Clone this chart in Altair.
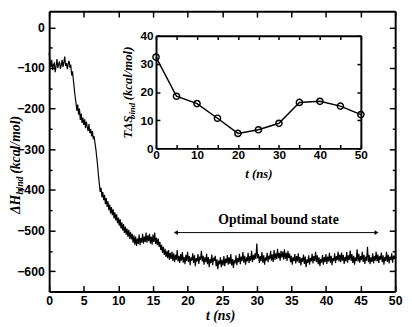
import altair as alt
import pandas as pd

# ---------------- data ----------------
# Main trace: Delta H_bind (kcal/mol), sampled every 0.125 ns from 0 to 50 ns
dh = [
    -62, -85, -98, -80, -105, -92, -88, -110, -95, -78, -100, -90, -84, -102, -93, -80,
    -97, -86, -72, -95, -88, -103, -90, -82, -99, -92, -118, -108, -130, -150, -170, -185,
    -205, -190, -215, -200, -228, -212, -235, -222, -240, -226, -248, -232, -245, -255, -238, -260,
    -250, -268, -255, -275, -268, -285, -300, -320, -340, -365, -385, -405, -395, -418, -405, -425,
    -412, -435, -420, -442, -428, -450, -436, -458, -442, -462, -448, -470, -455, -475, -460, -482,
    -468, -488, -472, -495, -480, -500, -484, -506, -490, -510, -495, -515, -498, -520, -503, -522,
    -508, -530, -512, -535, -515, -538, -520, -533, -510, -536, -518, -530, -508, -532, -515, -528,
    -505, -530, -512, -526, -508, -532, -515, -535, -510, -528, -505, -533, -518, -536, -520, -540,
    -528, -548, -535, -555, -540, -560, -545, -565, -550, -568, -548, -572, -555, -570, -552, -575,
    -556, -578, -560, -572, -548, -576, -562, -580, -558, -574, -553, -579, -565, -583, -560, -575,
    -552, -577, -563, -585, -566, -574, -556, -580, -561, -588, -568, -576, -558, -582, -564, -572,
    -550, -576, -562, -584, -566, -578, -557, -583, -565, -590, -570, -580, -559, -585, -567, -575,
    -562, -588, -571, -595, -574, -583, -566, -590, -572, -586, -563, -588, -569, -580, -560, -584,
    -566, -582, -558, -586, -570, -592, -572, -581, -561, -585, -568, -578, -557, -583, -564, -575,
    -553, -579, -562, -584, -566, -576, -555, -580, -563, -574, -550, -578, -560, -572, -556, -570,
    -532, -568, -558, -580, -563, -575, -553, -579, -561, -584, -566, -574, -555, -578, -562, -571,
    -550, -574, -559, -577, -548, -572, -556, -570, -545, -568, -555, -574, -550, -566, -552, -572,
    -546, -570, -555, -575, -550, -568, -557, -578, -562, -584, -566, -575, -558, -581, -563, -576,
    -556, -580, -565, -586, -568, -577, -559, -582, -564, -590, -571, -580, -561, -584, -567, -576,
    -557, -581, -563, -575, -552, -578, -561, -583, -566, -588, -570, -579, -560, -584, -565, -577,
    -558, -582, -564, -576, -555, -579, -562, -585, -568, -575, -556, -580, -563, -573, -552, -576,
    -559, -578, -554, -574, -560, -582, -565, -576, -553, -579, -561, -572, -549, -575, -558, -580,
    -562, -584, -566, -575, -546, -576, -557, -579, -563, -573, -552, -577, -560, -582, -564, -574,
    -540, -578, -560, -583, -566, -577, -556, -581, -563, -574, -552, -576, -559, -580, -563, -572,
    -554, -578, -561, -584, -565, -575, -552, -577, -560, -581, -564, -573, -556, -579, -562, -570,
    -560,
]
t_main = [i * 0.125 for i in range(len(dh))]

# Inset: T*Delta S_bind (kcal/mol)
t_inset = [0, 5, 10, 15, 20, 25, 30, 35, 40, 45, 50]
tds = [32.4, 18.5, 15.9, 10.7, 5.3, 6.6, 8.9, 16.3, 16.7, 15.0, 12.0]

# Annotation arrow (data coordinates)
arrow_t = [18.3, 47.3]
arrow_dh = -505
arrow_label = "Optimal bound state"

x_major = [0, 5, 10, 15, 20, 25, 30, 35, 40, 45, 50]
y_major = [-600, -500, -400, -300, -200, -100, 0]
y_minor = [-550, -450, -350, -250, -150, -50]
ix_labels = [0, 10, 20, 30, 40, 50]
ix_ticks = [0, 5, 10, 15, 20, 25, 30, 35, 40, 45, 50]
iy_labels = [0, 10, 20, 30, 40]

# ---------------- layout ----------------
W, H = 353, 286
SANS = "Liberation Sans"
SERIF = "Liberation Serif"

xs = alt.Scale(domain=[0, 50], nice=False, zero=False)
ys = alt.Scale(domain=[-650, 40], nice=False, zero=False)
ixs = alt.Scale(domain=[0, 50], range=[109, 318], nice=False, zero=False)
iys = alt.Scale(domain=[0, 40], range=[140, 25], nice=False, zero=False)


def ax(**kw):
    base = dict(title=None, grid=False, labels=False, ticks=False, domain=False,
                tickColor="black", domainColor="black", labelColor="black",
                labelFont=SANS, labelFontWeight="bold", labelFlush=False,
                labelOverlap=False, labelBound=False)
    base.update(kw)
    return alt.Axis(**base)


one = pd.DataFrame({"k": [0]})


def txt(s, x, y, size, angle=0, align="center", italic=True, weight="bold"):
    return alt.Chart(one).mark_text(
        text=s, font=SERIF, fontSize=size, fontStyle="italic" if italic else "normal",
        fontWeight=weight, angle=angle, align=align, baseline="alphabetic", color="black"
    ).encode(x=alt.value(x), y=alt.value(y))


main_df = pd.DataFrame({"t": t_main, "dh": dh})
base = alt.Chart(main_df)

line = base.mark_line(color="black", strokeWidth=1.2).encode(
    x=alt.X("t:Q", scale=xs, axis=ax(orient="bottom", labels=True, values=x_major,
                                     labelFontSize=12.5, labelPadding=3, tickSize=0,
                                     domain=True, domainWidth=2)),
    y=alt.Y("dh:Q", scale=ys, axis=ax(orient="left", labels=True, values=y_major,
                                      labelFontSize=12.5, labelPadding=5, tickSize=0,
                                      domain=True, domainWidth=2)),
)
g1 = base.mark_line(opacity=0).encode(
    x=alt.X("t:Q", scale=xs, axis=ax(orient="top", offset=-H, ticks=True, tickSize=6,
                                     tickWidth=1.5, values=x_major)),
    y=alt.Y("dh:Q", scale=ys, axis=ax(orient="right", offset=-W, ticks=True, tickSize=6,
                                      tickWidth=1.5, values=y_major)),
)
g2 = base.mark_line(opacity=0).encode(
    x=alt.X("t:Q", scale=xs, axis=ax(orient="bottom", offset=-H, ticks=True, tickSize=6,
                                     tickWidth=1.5, values=x_major,
                                     domain=True, domainWidth=2)),
    y=alt.Y("dh:Q", scale=ys, axis=ax(orient="left", offset=-W, ticks=True, tickSize=6,
                                      tickWidth=1.5, values=y_major,
                                      domain=True, domainWidth=2)),
)
g3 = base.mark_line(opacity=0).encode(
    x=alt.X("t:Q", scale=xs, axis=None),
    y=alt.Y("dh:Q", scale=ys, axis=ax(orient="right", offset=-W, ticks=True, tickSize=3,
                                      tickWidth=1.5, values=y_minor)),
)
g4 = base.mark_line(opacity=0).encode(
    x=alt.X("t:Q", scale=xs, axis=None),
    y=alt.Y("dh:Q", scale=ys, axis=ax(orient="left", offset=-W, ticks=True, tickSize=3,
                                      tickWidth=1.5, values=y_minor)),
)

arrow_df = pd.DataFrame({"t1": [arrow_t[0]], "t2": [arrow_t[1]], "y": [arrow_dh]})
rule = alt.Chart(arrow_df).mark_rule(color="black", strokeWidth=1).encode(
    x=alt.X("t1:Q", scale=xs, axis=None), x2="t2:Q",
    y=alt.Y("y:Q", scale=ys, axis=None),
)
heads_df = pd.DataFrame({"t": arrow_t, "y": [arrow_dh, arrow_dh],
                         "shape": ["triangle-left", "triangle-right"]})
heads = alt.Chart(heads_df).mark_point(filled=True, color="black", size=22, opacity=1).encode(
    x=alt.X("t:Q", scale=xs, axis=None),
    y=alt.Y("y:Q", scale=ys, axis=None),
    shape=alt.Shape("shape:N", scale=None, legend=None),
)

main_texts = [
    txt(arrow_label, 234, 217, 14, italic=False),
    txt("t (ns)", 175, 315, 14),
    txt("ΔH", -30, 207, 14, angle=270, align="left"),
    txt("bind", -27, 187, 10, angle=270, align="left"),
    txt("(kcal/mol)", -30, 166, 14, angle=270, align="left"),
]

main = alt.layer(line, g1, g2, g3, g4, rule, heads, *main_texts).resolve_axis(
    x="independent", y="independent")

# ---------------- inset ----------------
inset_df = pd.DataFrame({"t": t_inset, "tds": tds})
ib = alt.Chart(inset_df)

iline = ib.mark_line(color="black", strokeWidth=1.5).encode(
    x=alt.X("t:Q", scale=ixs, axis=ax(orient="bottom", offset=-(H - 140), labels=True,
                                      values=ix_labels, labelFontSize=12, labelPadding=1,
                                      tickSize=0, domain=True, domainWidth=2)),
    y=alt.Y("tds:Q", scale=iys, axis=ax(orient="left", offset=-109, labels=True,
                                        values=iy_labels, labelFontSize=12, labelPadding=3,
                                        tickSize=0, domain=True, domainWidth=2)),
)
ipts = ib.mark_point(shape="circle", filled=False, color="black", size=40, strokeWidth=1.5,
                     opacity=1).encode(
    x=alt.X("t:Q", scale=ixs, axis=None),
    y=alt.Y("tds:Q", scale=iys, axis=None),
)
gi1 = ib.mark_line(opacity=0).encode(
    x=alt.X("t:Q", scale=ixs, axis=ax(orient="top", offset=-140, ticks=True, tickSize=4,
                                      tickWidth=1.5, values=ix_ticks)),
    y=alt.Y("tds:Q", scale=iys, axis=ax(orient="right", offset=-(W - 109), ticks=True,
                                        tickSize=4, tickWidth=1.5, values=iy_labels)),
)
gi2 = ib.mark_line(opacity=0).encode(
    x=alt.X("t:Q", scale=ixs, axis=ax(orient="bottom", offset=-(H - 25), ticks=True,
                                      tickSize=4, tickWidth=1.5, values=ix_ticks,
                                      domain=True, domainWidth=2)),
    y=alt.Y("tds:Q", scale=iys, axis=ax(orient="left", offset=-318, ticks=True, tickSize=4,
                                        tickWidth=1.5, values=iy_labels,
                                        domain=True, domainWidth=2)),
)

inset_texts = [
    txt("t (ns)", 214, 170, 13),
    txt("TΔS", 84, 130, 13, angle=270, align="left"),
    txt("bind", 87.5, 110, 9, angle=270, align="left"),
    txt("(kcal/mol)", 84, 91, 13, angle=270, align="left"),
]

inset = alt.layer(iline, ipts, gi1, gi2, *inset_texts).resolve_axis(
    x="independent", y="independent")

chart = alt.layer(main, inset).resolve_scale(
    x="independent", y="independent"
).properties(
    width=W, height=H,
    padding={"left": 42, "top": 0, "right": 9, "bottom": 33},
    autosize=alt.AutoSizeParams(type="none"),
    background="white",
).configure_view(stroke=None)

chart.save("out.html", embed_options={"renderer": "svg", "actions": False})
